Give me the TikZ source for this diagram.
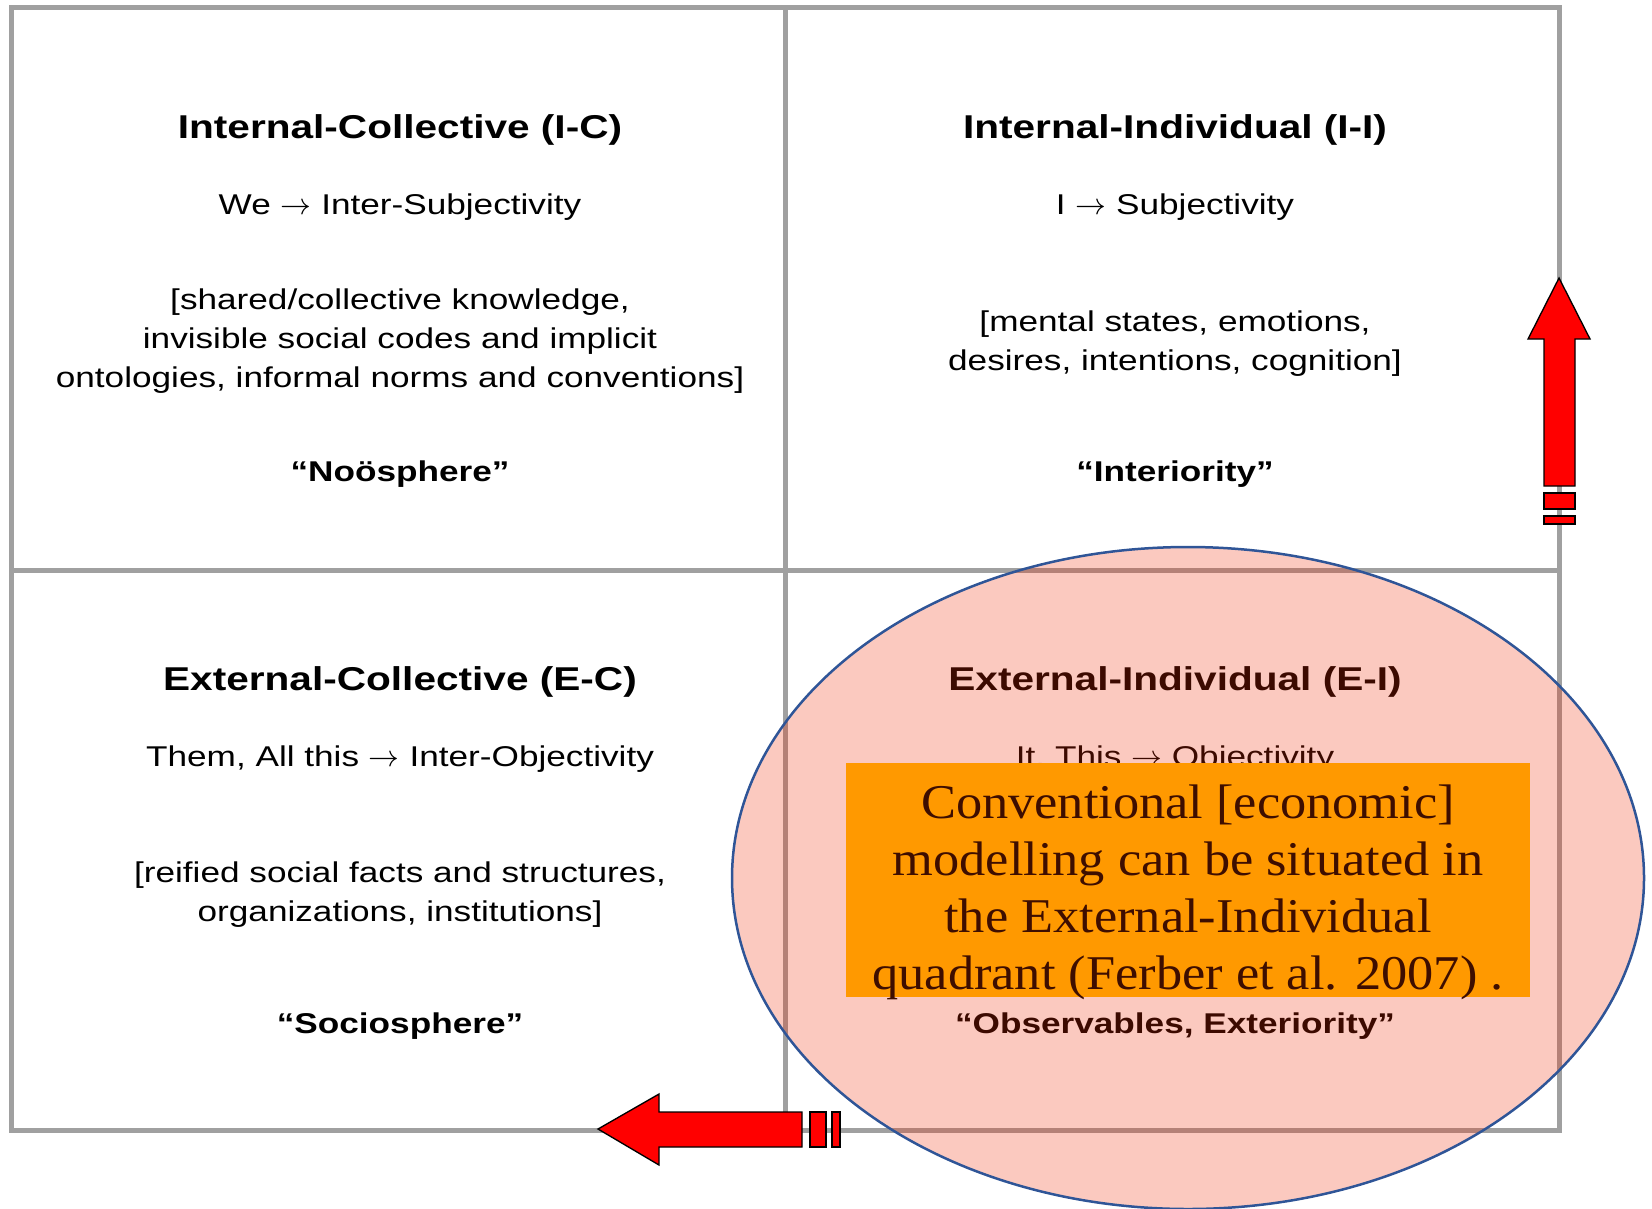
\documentclass[tikz,border=0pt]{standalone}
\usepackage{fontspec}
\setmainfont[FakeStretch=1.23]{Liberation Sans}
\newfontfamily\notefont[FakeStretch=1.08]{Liberation Serif}
\usetikzlibrary{shapes.geometric}
\definecolor{gridgrey}{RGB}{160,160,160}
\definecolor{blush}{RGB}{240,40,0}
\definecolor{rimblue}{RGB}{47,85,151}
\definecolor{noteorange}{RGB}{255,153,0}
\definecolor{notebrown}{RGB}{62,14,0}

\begin{document}
\begin{tikzpicture}[x=0.3pt,y=-0.3pt,
  quadhead/.style={anchor=base,font=\fontsize{9.9}{11.9}\selectfont\bfseries},
  quadline/.style={anchor=base,align=center,font=\fontsize{8.58}{11.6}\selectfont},
  quadname/.style={anchor=base,font=\fontsize{8.58}{11.6}\selectfont\bfseries},
  gridline/.style={draw=gridgrey,line width=1.5pt},
  zone/.style={ellipse,draw=rimblue,line width=0.75pt,fill=blush,fill opacity=0.25,
               draw opacity=1,minimum width=273.6pt,minimum height=198.6pt,inner sep=0pt},
  note/.style={fill=noteorange,minimum width=205.2pt,minimum height=70.2pt,inner sep=0pt},
  notetext/.style={anchor=base,align=center,text=notebrown,
                   font=\notefont\fontsize{14.55}{17.1}\selectfont},
  blockarrow/.style={fill=red,draw=black,line width=0.4pt}]
\useasboundingbox (0,0) rectangle (1652,1208);

% the four quadrants
\draw[gridline] (11,7) rectangle (1559,1130);
\draw[gridline] (785,7) -- (785,1130);
\draw[gridline] (11,570) -- (1559,570);

% multi-line nodes sit on the baseline of their last line
\node[quadhead] (ich) at (400,138.5) {Internal-Collective (I-C)};
\node[quadline] (ics) at (400,214) {We $\rightarrow$ Inter-Subjectivity};
\node[quadline] (icb) at (400,387) {[shared/collective knowledge,\\
  invisible social codes and implicit\\ ontologies, informal norms and conventions]};
\node[quadname] (icn) at (400,481) {“Noösphere”};

\node[quadhead] (iih) at (1175,138.5) {Internal-Individual (I-I)};
\node[quadline] (iis) at (1175,214) {I $\rightarrow$ Subjectivity};
\node[quadline] (iib) at (1175,370) {[mental states, emotions,\\ desires, intentions, cognition]};
\node[quadname] (iin) at (1175,481) {“Interiority”};

\node[quadhead] (ech) at (400,690) {External-Collective (E-C)};
\node[quadline] (ecs) at (400,766) {Them, All this $\rightarrow$ Inter-Objectivity};
\node[quadline] (ecb) at (400,921) {[reified social facts and structures,\\ organizations, institutions]};
\node[quadname] (ecn) at (400,1033) {“Sociosphere”};

\node[quadhead] (eih) at (1175,690) {External-Individual (E-I)};
\node[quadline] (eis) at (1175,766) {It, This $\rightarrow$ Objectivity};
\node[quadname] (ein) at (1175,1033) {“Observables, Exteriority”};

% highlighted zone and its note
\node[zone] (zone) at (1188,878) {};
\node[note] (note) at (1188,880) {};
\node[notetext] (notetxt) at (1188,989) {Conventional [economic]\\ modelling can be situated in\\
  the External-Individual\\ quadrant (Ferber et al. 2007) .};

% block arrows
\filldraw[blockarrow] (1559,278) -- (1590,339) -- (1575,339) -- (1575,486) -- (1544,486)
  -- (1544,339) -- (1528,339) -- cycle;
\filldraw[blockarrow] (1544,493) rectangle (1575,509);
\filldraw[blockarrow] (1544,516) rectangle (1575,524);

\filldraw[blockarrow] (598,1129) -- (659,1094) -- (659,1112) -- (802,1112) -- (802,1147)
  -- (659,1147) -- (659,1165) -- cycle;
\filldraw[blockarrow] (810,1112) rectangle (826,1147);
\filldraw[blockarrow] (832,1112) rectangle (840,1147);
\end{tikzpicture}
\end{document}
